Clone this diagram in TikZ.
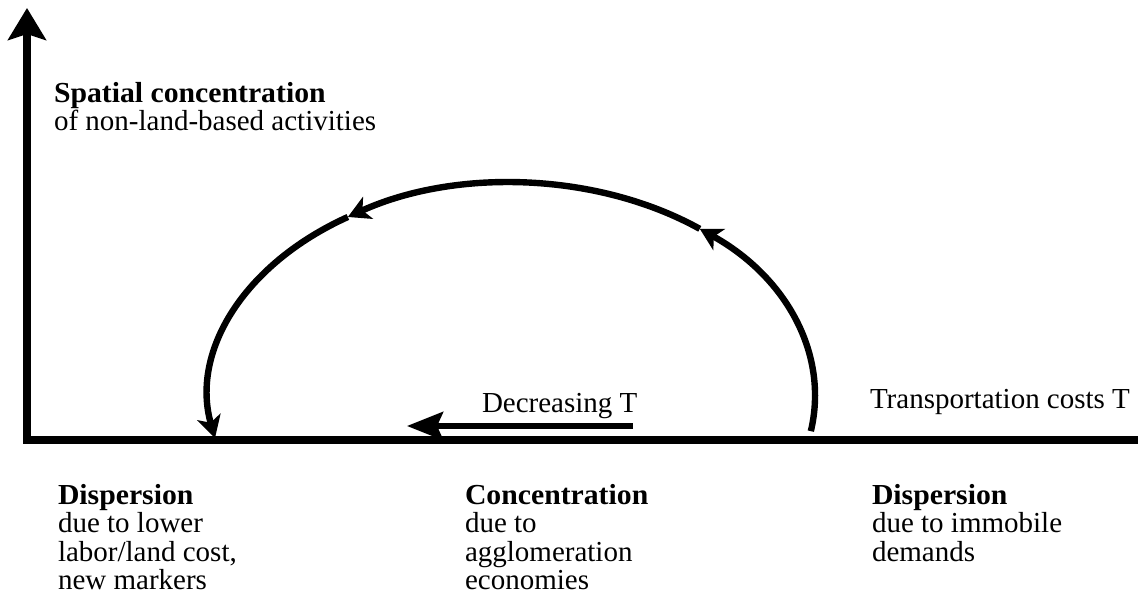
\documentclass[tikz,border=0pt]{standalone}
\usepackage{fontspec}
\setmainfont{Liberation Serif}[BoldFeatures={FakeStretch=1.025}]
\usetikzlibrary{arrows.meta}
\begin{document}
\begin{tikzpicture}[x=0.5pt,y=0.5pt,
  axis/.style={line width=3.75pt, line join=miter},
  cyclepath/.style={line width=3.2pt},
  lbl/.style={inner sep=0pt, outer sep=0pt, align=left,
    font=\fontsize{14.5pt}{14.3pt}\selectfont},
  axistip/.style={-{Stealth[length=16pt,width=19pt,inset=3pt]}},
  cycletip/.style={-{Stealth[length=11pt,width=12pt,inset=3pt]}},
  dirtip/.style={-{Stealth[length=18pt,width=14pt,inset=3pt]}}]
\useasboundingbox (0,0) rectangle (1138,-594);

% axes
\coordinate (xend) at (1138,-440);
\coordinate (origin) at (27,-440);
\coordinate (ytop) at (27,-8);
\draw[axis, axistip] (xend) -- (origin) -- (ytop);

% the concentration / dispersion loop, drawn in three arrowed pieces
\coordinate (ctr) at (512,-396);
\draw[cyclepath, cycletip] (ctr) ++(-9.5:303 and 213)
  arc[start angle=-9.5, end angle=51.7, x radius=303, y radius=213];
\draw[cyclepath, cycletip] (ctr) ++(51.7:303 and 213)
  arc[start angle=51.7, end angle=122.8, x radius=303, y radius=213];
\draw[cyclepath, cycletip] (ctr) ++(122.8:303 and 213)
  arc[start angle=122.8, end angle=191.4, x radius=303, y radius=213];

% labels
\node[lbl, anchor=north west] (ylabel) at (54,-82)
  {\textbf{Spatial concentration}\\of non-land-based activities};
\node[lbl, anchor=base west] (dec) at (482,-412) {Decreasing T};
\node[lbl, anchor=base west] (xlabel) at (870,-408) {Transportation costs T};
\node[lbl, anchor=north west] (disp1) at (58,-484)
  {\textbf{Dispersion}\\due to lower\\labor/land cost,\\new markers};
\node[lbl, anchor=north west] (conc) at (465,-484)
  {\textbf{Concentration}\\due to\\agglomeration\\economies};
\node[lbl, anchor=north west] (disp2) at (872,-484)
  {\textbf{Dispersion}\\due to immobile\\demands};

% direction of decreasing transport costs
\coordinate (dtail) at (633,-426);
\coordinate (dhead) at (407,-426);
\draw[line width=3pt, dirtip] (dtail) -- (dhead);
\end{tikzpicture}
\end{document}
